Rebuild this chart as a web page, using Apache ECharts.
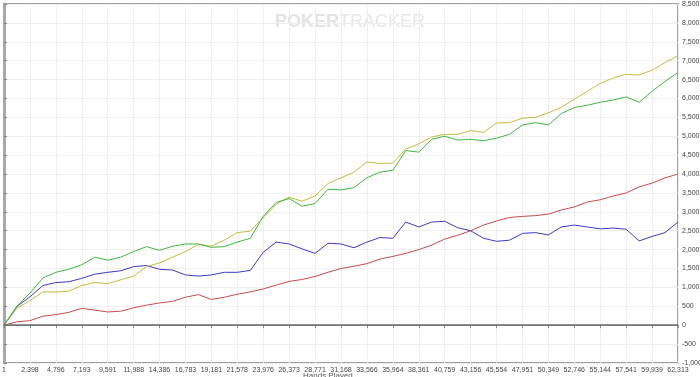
<!DOCTYPE html>
<html>
<head>
<meta charset="utf-8">
<script src="https://cdn.jsdelivr.net/npm/echarts@6/dist/echarts.min.js"></script>
<style>
  html, body { margin: 0; padding: 0; background: #fff; }
  #chart { width: 700px; height: 377px; }
</style>
</head>
<body>
<div id="chart"></div>
<script>
// x tick labels (hands played)
var handLabels = ["1", "2,398", "4,796", "7,193", "9,591", "11,988", "14,386", "16,783", "19,181",
  "21,578", "23,976", "26,373", "28,771", "31,168", "33,566", "35,964", "38,361", "40,759",
  "43,156", "45,554", "47,951", "50,349", "52,746", "55,144", "57,541", "59,939", "62,313"];

// sample positions, in tick units (half a tick apart)
var samplePos = [0, 0.5, 1, 1.5, 2, 2.5, 3, 3.5, 4, 4.5, 5, 5.5, 6, 6.5, 7, 7.5, 8, 8.5, 9, 9.5,
  10, 10.5, 11, 11.5, 12, 12.5, 13, 13.5, 14, 14.5, 15, 15.5, 16, 16.5, 17, 17.5, 18, 18.5, 19, 19.5,
  20, 20.5, 21, 21.5, 22, 22.5, 23, 23.5, 24, 24.5, 25, 25.5, 26];

var greenVals = [0, 500, 850, 1250, 1400, 1480, 1600, 1800, 1720, 1800, 1950, 2080, 1980, 2090,
  2150, 2150, 2060, 2080, 2200, 2300, 2880, 3250, 3350, 3150, 3220, 3600, 3580, 3640, 3900, 4050,
  4100, 4620, 4580, 4920, 5000, 4900, 4920, 4880, 4950, 5050, 5300, 5360, 5300, 5600, 5760, 5820,
  5900, 5960, 6040, 5900, 6190, 6450, 6690];

var yellowVals = [0, 450, 650, 880, 880, 900, 1050, 1130, 1100, 1200, 1300, 1550, 1650, 1800,
  1950, 2140, 2090, 2250, 2450, 2490, 2850, 3200, 3390, 3280, 3420, 3750, 3900, 4050, 4320, 4280,
  4290, 4660, 4800, 4980, 5050, 5050, 5150, 5100, 5350, 5360, 5480, 5500, 5620, 5760, 5980, 6190,
  6400, 6540, 6640, 6620, 6750, 6950, 7130];

var blueVals = [0, 500, 750, 1050, 1130, 1150, 1240, 1350, 1400, 1440, 1550, 1580, 1480, 1460,
  1330, 1300, 1330, 1400, 1400, 1450, 1930, 2200, 2150, 2020, 1900, 2170, 2150, 2050, 2200, 2320,
  2300, 2730, 2600, 2730, 2750, 2580, 2500, 2300, 2220, 2250, 2430, 2450, 2390, 2600, 2650, 2600,
  2550, 2570, 2540, 2230, 2350, 2450, 2730];

var redVals = [0, 90, 120, 240, 280, 340, 450, 400, 350, 370, 460, 530, 590, 630, 740, 810, 680,
  740, 820, 880, 960, 1060, 1160, 1210, 1290, 1400, 1500, 1560, 1630, 1750, 1820, 1900, 2000, 2120,
  2280, 2380, 2500, 2650, 2760, 2850, 2880, 2900, 2940, 3050, 3130, 3260, 3320, 3420, 3500, 3660,
  3760, 3900, 4000];

function pairs(vals) {
  return vals.map(function (v, i) { return [samplePos[i], v]; });
}

function lineSeries(name, vals, color) {
  return {
    name: name,
    type: "line",
    data: pairs(vals),
    symbol: "none",
    color: color,
    lineStyle: { width: 1, color: color },
    animation: false,
  };
}

var series = [
  lineSeries("Red", redVals, "#cc4a4a"),
  lineSeries("Blue", blueVals, "#3a3acb"),
  lineSeries("Yellow", yellowVals, "#c4bd3c"),
  lineSeries("Green", greenVals, "#3fb83f"),
];
// zero line
series[0].markLine = {
  silent: true,
  symbol: "none",
  label: { show: false },
  lineStyle: { color: "#6e6e6e", width: 1.5, type: "solid" },
  data: [{ yAxis: 0 }],
};

var chart = echarts.init(document.getElementById("chart"));
chart.setOption({
  animation: false,
  textStyle: { fontFamily: "Liberation Sans, Arial, sans-serif" },
  grid: {
    left: 4, right: 22, top: 4, bottom: 14,
    outerBoundsMode: "none",
    containLabel: false,
    show: true, borderColor: "#a0a0a0", borderWidth: 2,
  },
  graphic: [
    {
      type: "text",
      left: 275,
      top: 13,
      style: {
        text: "{b|POKER}{l|TRACKER}",
        rich: {
          b: { fontSize: 18, fontWeight: "bold", fill: "#e3e3e3", fontFamily: "Liberation Sans" },
          l: { fontSize: 18, fill: "#e8e8e8", fontFamily: "Liberation Sans Narrow, Liberation Sans" },
        },
      },
      z: 0,
    },
    {
      // axis title, cut off by the bottom of the picture
      type: "text",
      left: 303,
      top: 372,
      style: { text: "Hands Played", fontSize: 8, fill: "#555", fontFamily: "Liberation Sans" },
    },
  ],
  xAxis: {
    type: "value",
    min: 0,
    max: 26,
    interval: 1,
    axisLine: { show: true, lineStyle: { color: "#888", width: 1 } },
    axisTick: { show: true, length: 3, lineStyle: { color: "#888" } },
    axisLabel: {
      fontSize: 7,
      color: "#444",
      margin: 4,
      formatter: function (v) { return handLabels[Math.round(v)]; },
    },
    splitLine: { show: true, lineStyle: { color: "#efefef", width: 1 } },
  },
  yAxis: {
    type: "value",
    position: "right",
    min: -1000,
    max: 8500,
    interval: 500,
    axisLine: { show: true, lineStyle: { color: "#a8a8a8", width: 3 } },
    axisTick: { show: true, length: 3, lineStyle: { color: "#888" } },
    axisLabel: {
      fontSize: 7,
      color: "#444",
      margin: 4,
      formatter: function (v) { return v.toLocaleString("en-US"); },
    },
    splitLine: { show: true, lineStyle: { color: "#efefef", width: 1 } },
  },
  series: series,
});
</script>
</body>
</html>
